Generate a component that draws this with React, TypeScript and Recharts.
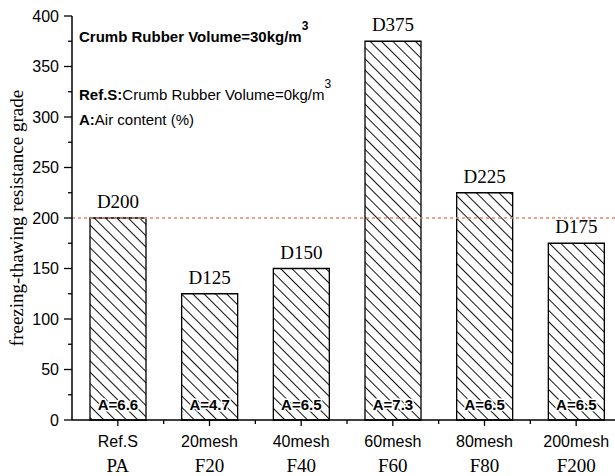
import { BarChart, Bar, XAxis, YAxis, ReferenceLine, LabelList } from "recharts";

const meshLabels = ["Ref.S", "20mesh", "40mesh", "60mesh", "80mesh", "200mesh"];
const codes = ["PA", "F20", "F40", "F60", "F80", "F200"];
const grades = [200, 125, 150, 375, 225, 175];
const airContent = ["6.6", "4.7", "6.5", "7.3", "6.5", "6.5"];
const yTicks = [0, 25, 50, 75, 100, 125, 150, 175, 200, 225, 250, 275, 300, 325, 350, 375, 400];
const refGrade = 200;

const data = meshLabels.map((m, i) => ({
  mesh: m,
  code: codes[i],
  grade: grades[i],
  air: airContent[i],
}));

const SANS = "'Liberation Sans', Arial, sans-serif";
const SERIF = "'Liberation Serif', 'Times New Roman', serif";
const BAND = 550 / 6;

function XTick(props: any) {
  const { x, y, payload, index } = props;
  return (
    <g>
      <line x1={x} y1={y} x2={x} y2={y + 6} stroke="#000" strokeWidth={1.3} />
      <line x1={x + BAND / 2} y1={y} x2={x + BAND / 2} y2={y + 4} stroke="#000" strokeWidth={1.3} />
      <text x={x} y={y + 27} textAnchor="middle" fontFamily={SANS} fontSize={16} fill="#000">
        {payload.value}
      </text>
      <text x={x} y={y + 52} textAnchor="middle" fontFamily={SERIF} fontSize={19} fill="#000">
        {codes[index]}
      </text>
    </g>
  );
}

function YTick(props: any) {
  const { x, y, payload } = props;
  const major = payload.value % 50 === 0;
  return (
    <g>
      <line x1={x} y1={y} x2={x - (major ? 8 : 4)} y2={y} stroke="#000" strokeWidth={1.3} />
      {major && (
        <text x={x - 13} y={y + 5.5} textAnchor="end" fontFamily={SANS} fontSize={16} fill="#000">
          {payload.value}
        </text>
      )}
    </g>
  );
}

function GradeLabel(props: any) {
  const { x, y, width, value } = props;
  return (
    <text x={x + width / 2} y={y - 10} textAnchor="middle" fontFamily={SERIF} fontSize={19} fill="#000">
      {"D" + value}
    </text>
  );
}

function AirLabel(props: any) {
  const { x, y, width, height, value } = props;
  return (
    <text
      x={x + width / 2}
      y={y + height - 10}
      textAnchor="middle"
      fontFamily={SANS}
      fontSize={15}
      fontWeight="bold"
      fill="#000"
      stroke="#fff"
      strokeWidth={3}
      paintOrder="stroke"
    >
      {"A=" + value}
    </text>
  );
}

export default function App() {
  return (
    <div style={{ position: "absolute", left: 0, top: 0, width: 615, height: 476, overflow: "hidden", background: "#fff" }}>
      <BarChart width={640} height={476} data={data} margin={{ top: 16, right: 18, left: 0, bottom: 0 }}>
        <defs>
          <pattern id="hatch" width={8} height={8} patternUnits="userSpaceOnUse" patternTransform="rotate(-45)">
            <line x1={0.5} y1={0} x2={0.5} y2={8} stroke="#111" strokeWidth={1} />
          </pattern>
        </defs>
        <XAxis
          dataKey="mesh"
          height={56}
          tick={<XTick />}
          tickLine={false}
          tickSize={0}
          tickMargin={0}
          axisLine={{ stroke: "#000", strokeWidth: 1.5 }}
          interval={0}
        />
        <YAxis
          width={72}
          domain={[0, 400]}
          ticks={yTicks}
          interval={0}
          tick={<YTick />}
          tickLine={false}
          tickSize={0}
          tickMargin={0}
          axisLine={{ stroke: "#000", strokeWidth: 1.5 }}
        />
        <ReferenceLine y={refGrade} stroke="#f47f6f" strokeWidth={1.6} strokeDasharray="3 3" />
        <Bar dataKey="grade" barSize={56} fill="url(#hatch)" stroke="#000" strokeWidth={1.3} isAnimationActive={false}>
          <LabelList dataKey="grade" content={<GradeLabel />} />
          <LabelList dataKey="air" content={<AirLabel />} />
        </Bar>
      </BarChart>
      <svg width={615} height={476} style={{ position: "absolute", left: 0, top: 0, pointerEvents: "none" }}>
        <text x={79} y={42} fontFamily={SANS} fontSize={15} fontWeight="bold" fill="#000">
          Crumb Rubber Volume=30kg/m
          <tspan dy={-12} fontSize={12}>3</tspan>
        </text>
        <text x={79} y={100} fontFamily={SANS} fontSize={15} fill="#000">
          <tspan fontWeight="bold">Ref.S:</tspan>
          Crumb Rubber Volume=0kg/m
          <tspan dy={-12} fontSize={12}>3</tspan>
        </text>
        <text x={79} y={125} fontFamily={SANS} fontSize={15} fill="#000">
          <tspan fontWeight="bold">A:</tspan>
          Air content (%)
        </text>
        <text
          x={23}
          y={218}
          transform="rotate(-90 23 218)"
          textAnchor="middle"
          fontFamily={SERIF}
          fontSize={19}
          fill="#000"
        >
          freezing-thawing resistance grade
        </text>
      </svg>
    </div>
  );
}
